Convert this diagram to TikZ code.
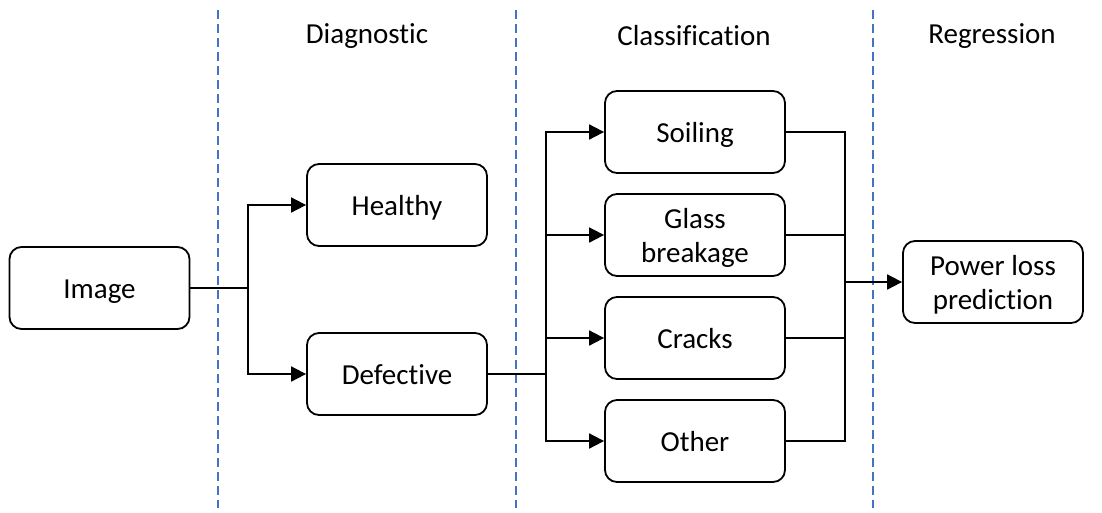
\documentclass[tikz,border=0pt]{standalone}
\usepackage{fontspec}
\setmainfont{Carlito}[Ligatures=NoCommon]
\usetikzlibrary{arrows.meta}
\definecolor{dashblue}{HTML}{4472C4}
\newcommand{\dnshift}[1]{\raisebox{-3.5pt}[\height][\depth]{\begin{tabular}{@{}c@{}}#1\end{tabular}}}
\begin{document}
\begin{tikzpicture}[x=1pt,y=-1pt,
  box/.style={draw=black, line width=1.8pt, rounded corners=12pt, minimum width=180pt, minimum height=82pt, align=center, inner sep=0pt, font=\fontsize{29}{34}\selectfont},
  hdr/.style={font=\fontsize{29}{34}\selectfont, inner sep=0pt},
  conn/.style={line width=1.8pt},
  arr/.style={conn, -{Triangle[length=15pt,width=15pt]}},
  sep/.style={dashblue, line width=1.4pt, dash pattern=on 9pt off 5pt}]
\useasboundingbox (0,0) rectangle (1102,512);
\fill[white] (0,0) rectangle (1102,512);
% separators
\coordinate (s1t) at (218,10); \coordinate (s1b) at (218,508);
\coordinate (s2t) at (516,10); \coordinate (s2b) at (516,508);
\coordinate (s3t) at (873,10); \coordinate (s3b) at (873,508);
\draw[sep] (s1t) -- (s1b);
\draw[sep] (s2t) -- (s2b);
\draw[sep] (s3t) -- (s3b);
% headers
\node[hdr] (h1) at (367,36) {Diagnostic};
\node[hdr] (h2) at (694,36) {Classification};
\node[hdr] (h3) at (992,36) {Regression};
% nodes
\node[box] (img) at (99.5,288) {\dnshift{Image}};
\node[box] (hea) at (397,205) {\dnshift{Healthy}};
\node[box] (def) at (397,374) {\dnshift{Defective}};
\node[box] (soi) at (695,132) {\dnshift{Soiling}};
\node[box] (gla) at (695,235) {\dnshift{Glass\\breakage}};
\node[box] (cra) at (695,338) {\dnshift{Cracks}};
\node[box] (oth) at (695,441) {\dnshift{Other}};
\node[box] (pow) at (993,282) {\dnshift{Power loss\\prediction}};
% junctions
\coordinate (j1) at (248,288);
\coordinate (j2) at (546,374);
\coordinate (j3) at (845,282);
% image -> healthy/defective
\draw[conn] (img.east) -- (j1);
\draw[arr] (j1) |- (hea.west);
\draw[arr] (j1) |- (def.west);
% defective -> classes
\draw[conn] (def.east) -- (j2);
\draw[arr] (j2) |- (soi.west);
\draw[arr] (j2) |- (gla.west);
\draw[arr] (j2) |- (cra.west);
\draw[arr] (j2) |- (oth.west);
% classes -> power
\draw[conn] (soi.east) -| (j3);
\draw[conn] (gla.east) -| (j3);
\draw[conn] (cra.east) -| (j3);
\draw[conn] (oth.east) -| (j3);
\draw[arr] (j3) -- (pow.west);
\end{tikzpicture}
\end{document}
